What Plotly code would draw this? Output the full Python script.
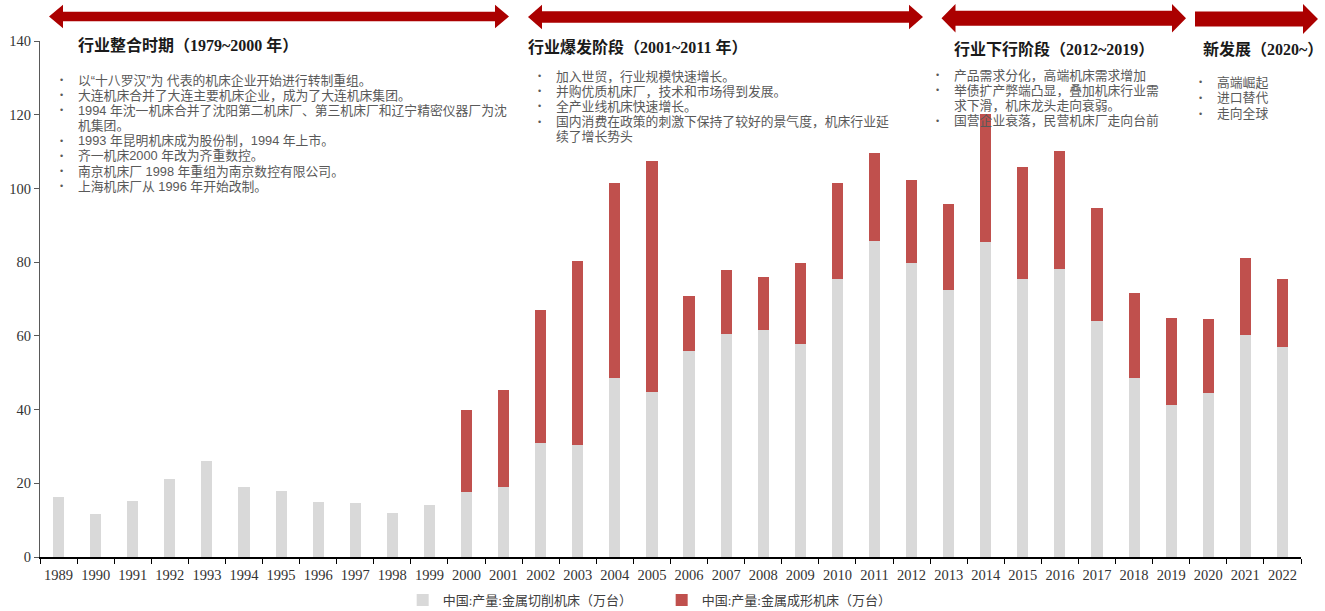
import plotly.graph_objects as go

# 中国金属加工机床产量（万台）
years = [str(y) for y in range(1989, 2023)]
cutting = [16.4, 11.6, 15.3, 21.1, 26.0, 19.1, 18.0, 14.9, 14.6, 11.9, 14.1,
           17.6, 19.1, 30.8, 30.4, 48.5, 44.9, 56.0, 60.6, 61.5, 57.9, 75.4,
           85.8, 79.7, 72.4, 85.5, 75.4, 78.1, 64.1, 48.7, 41.3, 44.4, 60.1, 56.9]
forming = [None, None, None, None, None, None, None, None, None, None, None,
           22.3, 26.1, 36.3, 50.0, 52.9, 62.5, 14.7, 17.3, 14.5, 21.9, 26.2,
           23.9, 22.5, 23.5, 34.8, 30.4, 32.0, 30.7, 23.0, 23.5, 20.2, 20.9, 18.4]

name_cutting = "中国:产量:金属切削机床（万台）"
name_forming = "中国:产量:金属成形机床（万台）"

# 阶段标题与要点
stage_titles = ["行业整合时期（1979~2000 年）", "行业爆发阶段（2001~2011 年）",
                "行业下行阶段（2012~2019）", "新发展（2020~）"]
stage1_points = ["以“十八罗汉”为 代表的机床企业开始进行转制重组。",
                 "大连机床合并了大连主要机床企业，成为了大连机床集团。",
                 "1994 年沈一机床合并了沈阳第二机床厂、第三机床厂和辽宁精密仪器厂为沈",
                 "机集团。",
                 "1993 年昆明机床成为股份制，1994 年上市。",
                 "齐一机床2000 年改为齐重数控。",
                 "南京机床厂 1998 年重组为南京数控有限公司。",
                 "上海机床厂从 1996 年开始改制。"]
stage1_bullets = [True, True, True, False, True, True, True, True]
stage2_points = ["加入世贸，行业规模快速增长。",
                 "并购优质机床厂，技术和市场得到发展。",
                 "全产业线机床快速增长。",
                 "国内消费在政策的刺激下保持了较好的景气度，机床行业延",
                 "续了增长势头"]
stage2_bullets = [True, True, True, True, False]
stage3_points = ["产品需求分化，高端机床需求增加",
                 "举债扩产弊端凸显，叠加机床行业需",
                 "求下滑，机床龙头走向衰弱。",
                 "国营企业衰落，民营机床厂走向台前"]
stage3_bullets = [True, True, False, True]
stage4_points = ["高端崛起", "进口替代", "走向全球"]
stage4_bullets = [True, True, True]

W, H = 1325, 611
L, R, T, B = 40, 24, 41, 54
PW, PH = W - L - R, H - T - B


def px(x):
    return (x - L) / PW


def py(y):
    return (H - B - y) / PH


fig = go.Figure()
fig.add_trace(go.Bar(x=years, y=cutting, name=name_cutting,
                     marker=dict(color="#D9D9D9", line=dict(width=0))))
fig.add_trace(go.Bar(x=years, y=forming, name=name_forming,
                     marker=dict(color="#C0504D", line=dict(width=0))))

# 红色阶段箭头
ARROW = "#AB0000"


def double_arrow(x0, x1, yc, hh, sh, hl):
    return [(x0, yc), (x0 + hl, yc - hh), (x0 + hl, yc - sh), (x1 - hl, yc - sh),
            (x1 - hl, yc - hh), (x1, yc), (x1 - hl, yc + hh), (x1 - hl, yc + sh),
            (x0 + hl, yc + sh), (x0 + hl, yc + hh)]


def right_arrow(x0, x1, yc, hh, sh, hl):
    return [(x0, yc - sh), (x1 - hl, yc - sh), (x1 - hl, yc - hh), (x1, yc),
            (x1 - hl, yc + hh), (x1 - hl, yc + sh), (x0, yc + sh)]


def to_path(pts):
    return "M " + " L ".join(f"{px(a):.5f},{py(b):.5f}" for a, b in pts) + " Z"


arrows = [double_arrow(49, 509, 16.5, 11.8, 4.8, 14),
          double_arrow(528, 923, 17, 12.2, 5.8, 14),
          double_arrow(941.5, 1186, 18.3, 14.3, 7.5, 14),
          right_arrow(1195, 1318, 19, 15, 7.5, 15)]
shapes = [dict(type="path", xref="paper", yref="paper", path=to_path(p),
               fillcolor=ARROW, line=dict(width=0), layer="above") for p in arrows]

annotations = []
TITLE_FONT = dict(family="Liberation Serif, Noto Sans CJK SC", size=16, color="#1A1A1A")
TEXT_FONT = dict(family="Liberation Sans, Noto Sans CJK SC", size=12.8, color="#595959")


def add_title(text, x, y):
    annotations.append(dict(text=f"<b>{text}</b>", x=px(x), y=py(y), xref="paper", yref="paper",
                            xanchor="left", yanchor="middle", showarrow=False, font=TITLE_FONT))


def add_points(lines, bullets, xdot, xtext, y0, dy):
    for i, (t, b) in enumerate(zip(lines, bullets)):
        y = y0 + i * dy
        if b:
            annotations.append(dict(text="•", x=px(xdot), y=py(y), xref="paper", yref="paper",
                                    xanchor="center", yanchor="middle", showarrow=False,
                                    font=dict(family="Liberation Sans", size=9, color="#595959")))
        annotations.append(dict(text=t, x=px(xtext), y=py(y), xref="paper", yref="paper",
                                xanchor="left", yanchor="middle", showarrow=False, font=TEXT_FONT))


add_title(stage_titles[0], 76, 45)
add_points(stage1_points, stage1_bullets, 61, 76, 80, 15.2)
add_title(stage_titles[1], 526, 47)
add_points(stage2_points, stage2_bullets, 539, 554, 76, 15.2)
add_title(stage_titles[2], 952, 49)
add_points(stage3_points, stage3_bullets, 937, 952, 75, 15.2)
add_title(stage_titles[3], 1201, 49)
add_points(stage4_points, stage4_bullets, 1200, 1215, 82, 15.8)

fig.update_layout(
    width=W, height=H,
    margin=dict(l=L, r=R, t=T, b=B, autoexpand=False),
    barmode="stack", bargap=0.7,
    plot_bgcolor="white", paper_bgcolor="white",
    shapes=shapes, annotations=annotations,
    showlegend=True,
    legend=dict(orientation="h", x=0.493, y=0.018, xref="paper", yref="container",
                xanchor="center", yanchor="middle", traceorder="normal",
                entrywidth=214, entrywidthmode="pixels",
                font=dict(family="Liberation Serif, Noto Sans CJK SC", size=13, color="#404040"),
                itemwidth=30, bgcolor="rgba(0,0,0,0)"),
    xaxis=dict(type="category", showline=True, linecolor="#000000", linewidth=1.5,
               ticks="outside", tickson="boundaries", ticklen=5, tickcolor="#000000",
               ticklabelstandoff=4, tickangle=0,
               tickfont=dict(family="Liberation Serif", size=14.5, color="#333333"),
               showgrid=False, zeroline=False, automargin=False),
    yaxis=dict(range=[0, 140], dtick=20, showline=True, linecolor="#595959", linewidth=1,
               ticks="outside", ticklen=5, tickcolor="#595959",
               tickfont=dict(family="Liberation Serif", size=14.5, color="#333333"),
               showgrid=False, zeroline=False, automargin=False),
)

fig.write_html("out.html")
